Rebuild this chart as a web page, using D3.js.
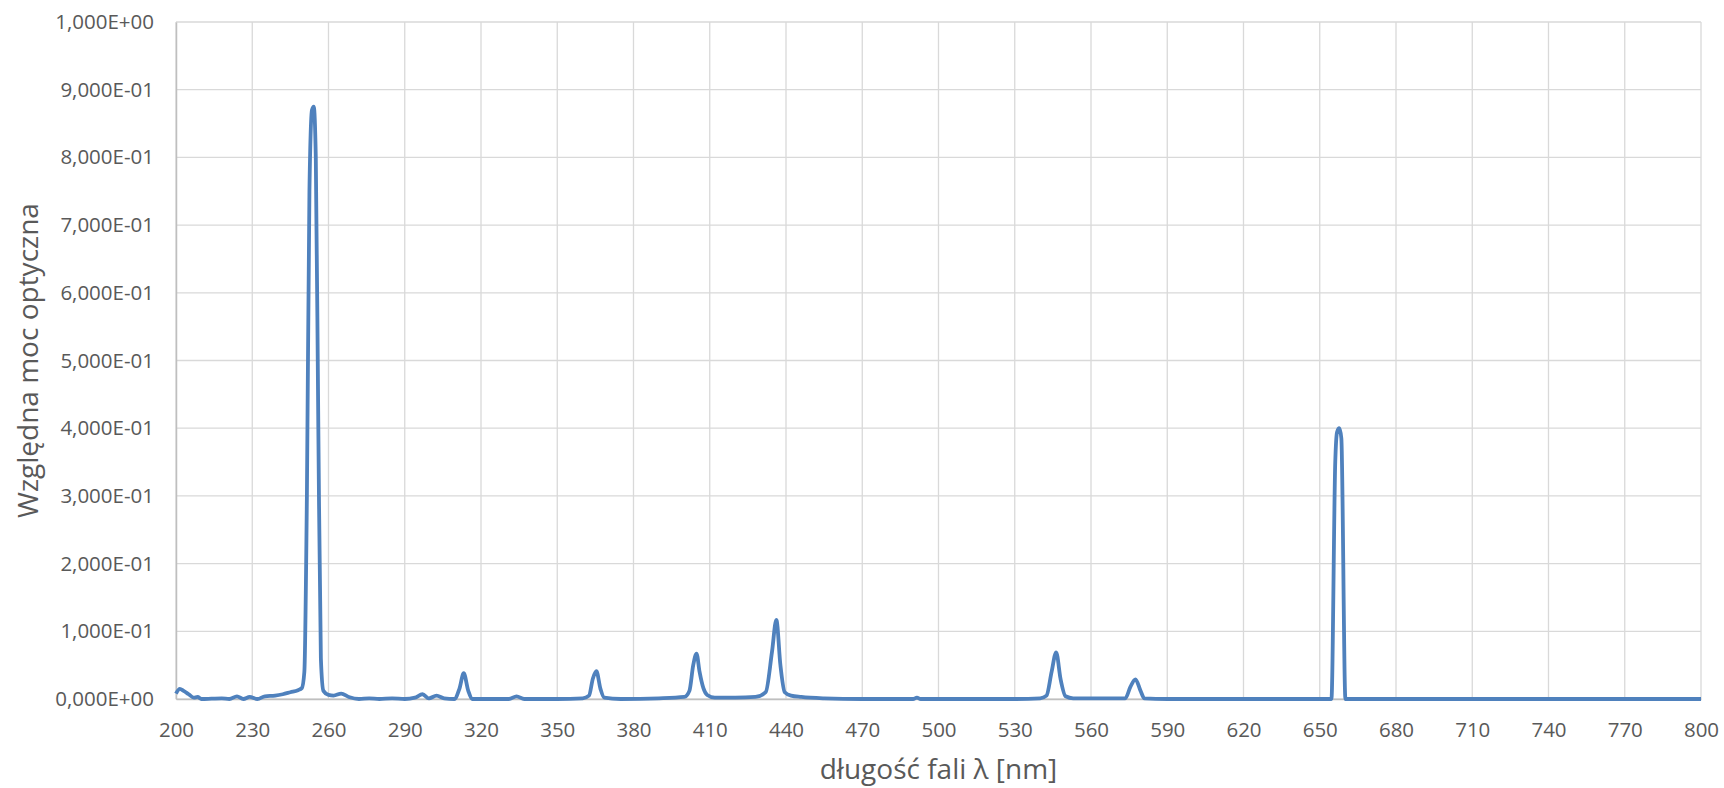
<!DOCTYPE html>
<html lang="pl">
<head>
    <meta charset="UTF-8">
    <title>Widmo lampy</title>
    <script src="https://cdnjs.cloudflare.com/ajax/libs/d3/7.8.5/d3.min.js"></script>
    <style>
        body {
            margin: 0;
            background: #ffffff;
            font-family: 'Open Sans', 'Noto Sans', sans-serif;
        }

        .grid line {
            stroke: #d9d9d9;
            stroke-width: 1.3px;
        }

        .tick text {
            fill: #595959;
            font-size: 20.5px;
        }

        .axis-title {
            fill: #595959;
            font-size: 28px;
        }
    </style>
</head>
<body>
    <svg id="chart" width="1724" height="788"></svg>

    <script>
        // wavelength [nm] and relative optical power
        const wavelengths = [
            200, 201.5, 203, 205, 207, 208.5, 210, 214, 218, 221, 224, 226.5, 229, 232, 235, 239, 242, 245, 248, 249.5,
            250.5, 251.5, 252.5, 253.5, 254.2, 255, 256, 257, 258, 260, 262, 265, 268, 272, 276, 280, 285, 290, 294, 297,
            299.5, 302.5, 305.5, 309.5, 311.5, 313.2, 315, 316.5, 325, 331, 334, 337, 350, 360, 362.5, 364, 365.4, 367, 368.5, 375,
            390, 400, 402, 403.5, 404.8, 406, 407.5, 409, 412, 420, 428, 432, 434.5, 436.2, 437.8, 439.5, 442, 446, 455, 470,
            490, 491.5, 493, 510, 530, 540, 542.5, 544.5, 546.3, 548, 550, 553, 560, 573.5, 575.5, 577.5, 579.5, 581, 590, 620,
            654.6, 656.1, 656.8, 657.7, 658.5, 660.1, 680, 800
        ];
        const power = [
            0.008, 0.015, 0.012, 0.007, 0.002, 0.003, 0.0, 0.0005, 0.001, 0.0, 0.004, 0.0, 0.003, 0.0, 0.004, 0.005, 0.007, 0.01, 0.013, 0.016,
            0.04, 0.3, 0.75, 0.87, 0.875, 0.8, 0.4, 0.06, 0.012, 0.006, 0.005, 0.008, 0.003, 0.0, 0.001, 0.0, 0.001, 0.0, 0.002, 0.007,
            0.001, 0.005, 0.001, 0.0, 0.015, 0.038, 0.012, 0.0, 0.0, 0.0, 0.004, 0.0, 0.0, 0.001, 0.005, 0.03, 0.041, 0.015, 0.002, 0.0,
            0.001, 0.003, 0.012, 0.05, 0.067, 0.04, 0.016, 0.006, 0.002, 0.002, 0.003, 0.01, 0.07, 0.117, 0.05, 0.01, 0.005, 0.003, 0.001, 0.0,
            0.0, 0.002, 0.0, 0.0, 0.0, 0.001, 0.005, 0.04, 0.069, 0.03, 0.004, 0.001, 0.001, 0.001, 0.018, 0.029, 0.012, 0.001, 0.0, 0.0,
            0.0, 0.35, 0.394, 0.40, 0.385, 0.0, 0.0, 0.0
        ];
        const xTicks = d3.range(200, 801, 30);
        const yTicks = d3.range(0, 1.0001, 0.1);

        const width = 1724, height = 788;
        const margin = { top: 22, right: 23, bottom: 89, left: 176 };

        const svg = d3.select("#chart");

        const x = d3.scaleLinear().domain([200, 800]).range([margin.left, width - margin.right]);
        const y = d3.scaleLinear().domain([0, 1]).range([height - margin.bottom, margin.top]);

        // polish number format: 1,000E-01
        const fmt = v => {
            const e = v === 0 ? 0 : Math.floor(Math.log10(v) + 1e-9);
            const m = v / Math.pow(10, e);
            const sign = e < 0 ? "-" : "+";
            return m.toFixed(3).replace(".", ",") + "E" + sign + String(Math.abs(e)).padStart(2, "0");
        };

        // vertical grid
        svg.append("g")
            .attr("class", "grid")
            .selectAll("line")
            .data(xTicks)
            .join("line")
            .attr("x1", d => x(d)).attr("x2", d => x(d))
            .attr("y1", y(1)).attr("y2", y(0));

        // horizontal grid
        svg.append("g")
            .attr("class", "grid")
            .selectAll("line")
            .data(yTicks)
            .join("line")
            .attr("x1", x(200)).attr("x2", x(800))
            .attr("y1", d => y(d)).attr("y2", d => y(d));

        // axes
        const xAxis = svg.append("g")
            .attr("transform", `translate(0,${y(0)})`)
            .call(d3.axisBottom(x).tickValues(xTicks).tickSize(0).tickPadding(23).tickFormat(d3.format("d")));
        xAxis.select(".domain").attr("stroke", "#bfbfbf").attr("stroke-width", 1.5);

        const yAxis = svg.append("g")
            .attr("transform", `translate(${x(200)},0)`)
            .call(d3.axisLeft(y).tickValues(yTicks).tickSize(0).tickPadding(22).tickFormat(fmt));
        yAxis.select(".domain").attr("stroke", "#bfbfbf").attr("stroke-width", 1.5);

        // let the page font apply to tick labels
        xAxis.attr("font-family", null).attr("font-size", null);
        yAxis.attr("font-family", null).attr("font-size", null);

        // spectrum line
        const data = wavelengths.map((w, i) => ({ w, p: power[i] }));
        const line = d3.line()
            .x(d => x(d.w))
            .y(d => y(d.p))
            .curve(d3.curveMonotoneX);

        svg.append("path")
            .datum(data)
            .attr("fill", "none")
            .attr("stroke", "#4f81bd")
            .attr("stroke-width", 3.8)
            .attr("stroke-linejoin", "round")
            .attr("d", line);

        // axis titles
        svg.append("text")
            .attr("class", "axis-title")
            .attr("text-anchor", "middle")
            .attr("transform", `translate(38,${(y(0) + y(1)) / 2}) rotate(-90)`)
            .text("Względna moc optyczna");

        svg.append("text")
            .attr("class", "axis-title")
            .attr("text-anchor", "middle")
            .attr("x", (x(200) + x(800)) / 2)
            .attr("y", 779)
            .text("długość fali λ [nm]");
    </script>
</body>
</html>
